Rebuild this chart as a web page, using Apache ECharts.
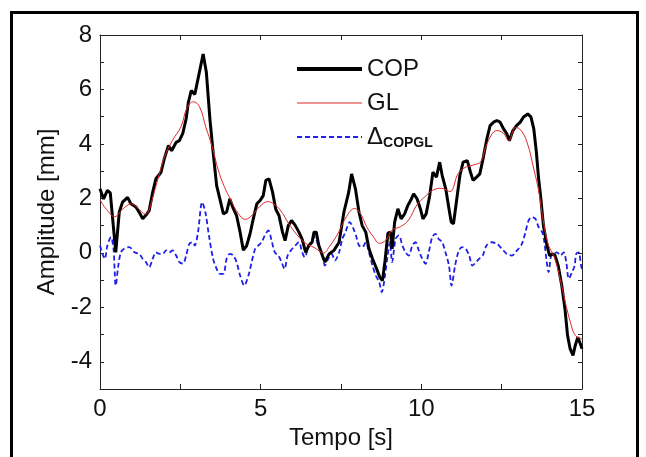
<!DOCTYPE html>
<html>
<head>
<meta charset="utf-8">
<script src="https://cdn.jsdelivr.net/npm/echarts@6/dist/echarts.min.js"></script>
<style>
  html, body { margin: 0; padding: 0; background: #fff; }
  #main { width: 646px; height: 457px; }
</style>
</head>
<body>
<div id="main"></div>
<script>
// values, [time s, amplitude mm]
var copData = [
  [0, 2.35], [0.11, 1.98], [0.23, 2.29], [0.32, 2.2], [0.49, 0.02], [0.6, 1.5], [0.7, 1.86],
  [0.86, 2.04], [0.96, 1.8], [1.12, 1.68], [1.22, 1.49], [1.33, 1.25], [1.46, 1.43], [1.53, 1.55],
  [1.64, 2.23], [1.74, 2.72], [1.9, 2.96], [2.0, 3.45], [2.13, 3.94], [2.23, 3.75], [2.37, 4.06],
  [2.47, 4.12], [2.58, 4.4], [2.68, 4.92], [2.75, 5.53], [2.84, 5.96], [2.95, 5.82], [3.05, 6.39],
  [3.21, 7.3], [3.31, 6.63], [3.42, 4.92], [3.52, 3.7], [3.63, 2.47], [3.73, 1.98], [3.84, 1.43],
  [3.94, 1.5], [4.04, 1.98], [4.15, 1.62], [4.25, 1.37], [4.36, 0.76], [4.46, 0.1], [4.56, 0.25],
  [4.67, 0.7], [4.77, 1.25], [4.88, 1.8], [4.98, 1.92], [5.08, 2.1], [5.16, 2.66], [5.26, 2.72],
  [5.37, 2.23], [5.47, 1.6], [5.57, 1.37], [5.68, 0.76], [5.76, 0.45], [5.86, 1.0], [5.96, 1.19],
  [6.08, 1.0], [6.19, 0.76], [6.29, 0.5], [6.4, 0.02], [6.5, 0.27], [6.6, 0.39], [6.66, 0.76],
  [6.73, 0.76], [6.81, 0.27], [6.92, -0.1], [7.0, -0.34], [7.13, -0.04], [7.28, 0.09], [7.44, 0.39],
  [7.59, 1.49], [7.74, 2.23], [7.83, 2.9], [7.95, 2.35], [8.06, 1.49], [8.16, 1.0], [8.27, 0.76],
  [8.37, 0.15], [8.48, -0.22], [8.58, -0.5], [8.71, -0.9], [8.79, -1.02], [8.87, -0.3], [8.96, 0.72],
  [9.04, 0.76], [9.09, 0.15], [9.17, 1.13], [9.27, 1.62], [9.37, 1.25], [9.48, 1.43], [9.58, 1.74],
  [9.69, 1.98], [9.76, 2.17], [9.87, 1.98], [9.97, 1.62], [10.05, 1.25], [10.15, 1.43], [10.26, 2.1],
  [10.36, 2.96], [10.47, 2.78], [10.57, 3.33], [10.65, 2.84], [10.76, 2.35], [10.86, 1.62],
  [10.93, 1.13], [11.0, 1.07], [11.09, 1.86], [11.2, 2.84], [11.3, 3.33], [11.43, 3.39], [11.53, 2.96],
  [11.61, 2.66], [11.72, 2.78], [11.82, 2.9], [11.92, 3.45], [12.04, 4.19], [12.14, 4.67],
  [12.25, 4.8], [12.35, 4.86], [12.45, 4.8], [12.56, 4.55], [12.66, 4.37], [12.74, 4.12],
  [12.85, 4.49], [12.97, 4.68], [13.08, 4.8], [13.18, 4.99], [13.31, 5.1], [13.41, 4.99],
  [13.5, 4.55], [13.58, 3.7], [13.65, 2.72], [13.72, 1.98], [13.8, 1.0], [13.91, 0.27],
  [13.99, -0.1], [14.09, -0.04], [14.16, -0.1], [14.26, -0.47], [14.37, -1.2], [14.47, -2.06],
  [14.55, -3.03], [14.63, -3.52], [14.72, -3.77], [14.79, -3.4], [14.87, -3.1], [14.95, -3.35],
  [15.0, -3.52]
];

var glData = [
  [0, 1.94], [0.2, 1.6], [0.46, 1.33], [0.7, 1.6], [0.98, 1.8], [1.24, 1.57], [1.4, 1.42],
  [1.5, 1.5], [1.62, 1.94], [1.8, 2.7], [2.0, 3.5], [2.26, 4.14], [2.52, 4.63], [2.7, 5.3],
  [2.91, 5.55], [3.1, 5.36], [3.29, 4.63], [3.49, 3.9], [3.68, 3.04], [3.87, 2.43], [4.07, 1.94],
  [4.3, 1.45], [4.52, 1.23], [4.75, 1.4], [4.97, 1.7], [5.22, 1.88], [5.4, 1.8], [5.61, 1.57],
  [5.87, 1.08], [6.13, 0.66], [6.4, 0.35], [6.66, 0.2], [6.96, 0.0], [7.15, 0.25], [7.41, 0.72],
  [7.67, 1.33], [7.92, 1.63], [8.1, 1.45], [8.3, 0.96], [8.5, 0.6], [8.7, 0.35], [8.9, 0.47],
  [9.09, 0.84], [9.35, 0.96], [9.6, 1.2], [9.86, 1.76], [10.11, 2.06], [10.37, 2.31], [10.63, 2.37],
  [10.89, 2.25], [11.15, 2.92], [11.4, 3.16], [11.6, 3.22], [11.85, 3.35], [12.04, 4.0],
  [12.35, 4.49], [12.55, 4.4], [12.72, 4.12], [12.93, 4.61], [13.1, 4.5], [13.29, 4.06],
  [13.5, 3.08], [13.66, 2.23], [13.8, 1.13], [13.96, 0.27], [14.12, -0.1], [14.27, -0.71],
  [14.48, -1.81], [14.64, -2.55], [14.79, -3.03], [15.0, -3.16]
];

var deltaData = [
  [0, 0.27], [0.08, -0.04], [0.15, -0.22], [0.23, 0.27], [0.34, 0.58], [0.42, 0.15], [0.49, -1.2],
  [0.57, -0.47], [0.65, 0.02], [0.75, 0.15], [0.91, 0.21], [1.07, 0.02], [1.22, -0.04],
  [1.33, -0.22], [1.43, -0.34], [1.53, -0.53], [1.64, -0.22], [1.74, 0.02], [1.85, -0.04],
  [1.95, -0.04], [2.06, 0.09], [2.16, 0.02], [2.26, 0.09], [2.37, -0.1], [2.47, -0.34],
  [2.58, -0.4], [2.68, -0.1], [2.78, 0.33], [2.89, 0.39], [2.95, 0.27], [3.05, 0.76], [3.18, 1.86],
  [3.28, 1.49], [3.39, 0.64], [3.52, -0.22], [3.63, -0.59], [3.73, -0.77], [3.84, -0.77],
  [3.94, -0.22], [4.04, -0.04], [4.15, -0.1], [4.25, -0.34], [4.36, -0.83], [4.49, -1.2],
  [4.62, -0.83], [4.72, -0.34], [4.83, 0.15], [4.93, 0.27], [5.03, 0.39], [5.13, 0.64], [5.24, 0.82],
  [5.34, 0.45], [5.44, 0.02], [5.55, -0.1], [5.65, -0.34], [5.74, -0.59], [5.84, -0.1], [5.94, 0.09],
  [6.08, 0.27], [6.19, 0.39], [6.29, 0.02], [6.37, -0.16], [6.48, 0.21], [6.58, 0.45], [6.69, 0.58],
  [6.79, 0.27], [6.9, 0.02], [7.0, -0.47], [7.1, -0.22], [7.21, -0.04], [7.31, -0.28], [7.44, 0.02],
  [7.54, 0.51], [7.64, 0.76], [7.77, 1.13], [7.87, 0.94], [7.98, 0.58], [8.06, 0.27], [8.17, 0.21],
  [8.27, 0.39], [8.37, 0.02], [8.48, -0.47], [8.58, -0.83], [8.69, -1.08], [8.77, -1.44],
  [8.87, -0.83], [8.95, -0.1], [9.02, 0.39], [9.09, -0.34], [9.2, 0.51], [9.3, 0.64], [9.41, 0.27],
  [9.51, 0.02], [9.61, -0.1], [9.72, 0.27], [9.82, 0.39], [9.92, 0.09], [10.03, -0.22],
  [10.13, -0.4], [10.23, 0.02], [10.34, 0.58], [10.44, 0.7], [10.54, 0.51], [10.65, 0.39],
  [10.75, 0.02], [10.86, -0.47], [10.94, -1.2], [11.05, -0.47], [11.15, 0.02], [11.26, 0.21],
  [11.38, 0.15], [11.49, -0.1], [11.59, -0.47], [11.7, -0.34], [11.8, -0.22], [11.91, -0.1],
  [12.03, 0.27], [12.19, 0.39], [12.35, 0.33], [12.51, 0.15], [12.66, -0.04], [12.82, -0.1],
  [12.98, 0.09], [13.13, 0.33], [13.24, 0.76], [13.34, 1.19], [13.44, 1.31], [13.55, 1.25],
  [13.65, 0.94], [13.76, 0.76], [13.83, 0.39], [13.89, -0.22], [13.96, -0.71], [14.04, -0.1],
  [14.12, -0.04], [14.22, 0.02], [14.33, -0.1], [14.43, 0.02], [14.51, -0.34], [14.59, -0.95],
  [14.69, -0.71], [14.77, -0.47], [14.82, -0.04], [14.9, 0.02], [14.97, -0.47], [15.0, -0.59]
];

var seriesNames = ['COP', 'GL', 'Δ'];
var xTitle = 'Tempo [s]';
var yTitle = 'Amplitude [mm]';

var font = 'Liberation Sans, Arial, sans-serif';
var axisColor = '#222';
var textColor = '#111';

function makeX(pos, showLabels) {
  return {
    type: 'value',
    position: pos,
    min: 0,
    max: 15,
    interval: 2.5,
    name: showLabels ? xTitle : '',
    nameLocation: 'middle',
    nameGap: 35,
    nameTextStyle: { fontFamily: font, fontSize: 24, color: textColor },
    axisLine: { show: true, onZero: false, lineStyle: { color: axisColor, width: 1 } },
    axisTick: { show: true, inside: true, length: 5, lineStyle: { color: axisColor } },
    axisLabel: {
      show: showLabels,
      margin: 8,
      fontFamily: font,
      fontSize: 24,
      color: textColor,
      formatter: function (v) { return v % 5 === 0 ? String(v) : ''; }
    },
    splitLine: { show: false }
  };
}

function makeY(pos, showLabels) {
  return {
    type: 'value',
    position: pos,
    min: -5,
    max: 8,
    interval: 1,
    name: showLabels ? yTitle : '',
    nameLocation: 'middle',
    nameGap: 37,
    nameRotate: 90,
    nameTextStyle: { fontFamily: font, fontSize: 24, color: textColor },
    axisLine: { show: true, onZero: false, lineStyle: { color: axisColor, width: 1 } },
    axisTick: { show: true, inside: true, length: 4, lineStyle: { color: axisColor } },
    axisLabel: {
      show: showLabels,
      margin: 8,
      fontFamily: font,
      fontSize: 24,
      color: textColor,
      formatter: function (v) { return v % 2 === 0 ? String(v) : ''; }
    },
    splitLine: { show: false }
  };
}

var option = {
  backgroundColor: '#fff',
  animation: false,
  grid: { left: 100, right: 64, top: 35, bottom: 68, containLabel: false },
  xAxis: [makeX('bottom', true), makeX('top', false)],
  yAxis: [makeY('left', true), makeY('right', false)],
  legend: {
    orient: 'vertical',
    left: 295,
    top: 57,
    padding: 0,
    itemWidth: 65,
    itemHeight: 14,
    itemGap: 10,
    data: [
      { name: 'COP', itemStyle: { opacity: 0 }, lineStyle: { width: 4 } },
      { name: 'GL', itemStyle: { opacity: 0 }, lineStyle: { width: 1 } },
      { name: 'Δ', itemStyle: { opacity: 0 }, lineStyle: { width: 2 } }
    ],
    textStyle: {
      fontFamily: font,
      fontSize: 24,
      color: textColor,
      rich: {
        sub: { fontFamily: font, fontSize: 14, fontWeight: 'bold', color: textColor, padding: [12, 0, 0, 0] }
      }
    },
    formatter: function (name) {
      return name === seriesNames[2] ? 'Δ{sub|COPGL}' : name;
    }
  },
  graphic: [
    {
      type: 'rect',
      left: 9,
      top: 10,
      shape: { width: 626, height: 470 },
      style: { fill: 'none', stroke: '#000', lineWidth: 3 },
      silent: true
    }
  ],
  series: [
    {
      name: 'Δ',
      type: 'line',
      data: deltaData,
      symbol: 'none',
      smooth: 0.3,
      z: 2,
      lineStyle: { color: '#1f1fe8', width: 1.8, type: [5, 3] },
      itemStyle: { color: '#1f1fe8' }
    },
    {
      name: 'COP',
      type: 'line',
      data: copData,
      symbol: 'none',
      z: 3,
      lineStyle: { color: '#000', width: 3 },
      itemStyle: { color: '#000' }
    },
    {
      name: 'GL',
      type: 'line',
      data: glData,
      symbol: 'none',
      smooth: 0.4,
      z: 4,
      lineStyle: { color: '#e02828', width: 1 },
      itemStyle: { color: '#e02828' }
    }
  ]
};

var myChart = echarts.init(document.getElementById('main'), null, { renderer: 'canvas' });
myChart.setOption(option);
</script>
</body>
</html>
